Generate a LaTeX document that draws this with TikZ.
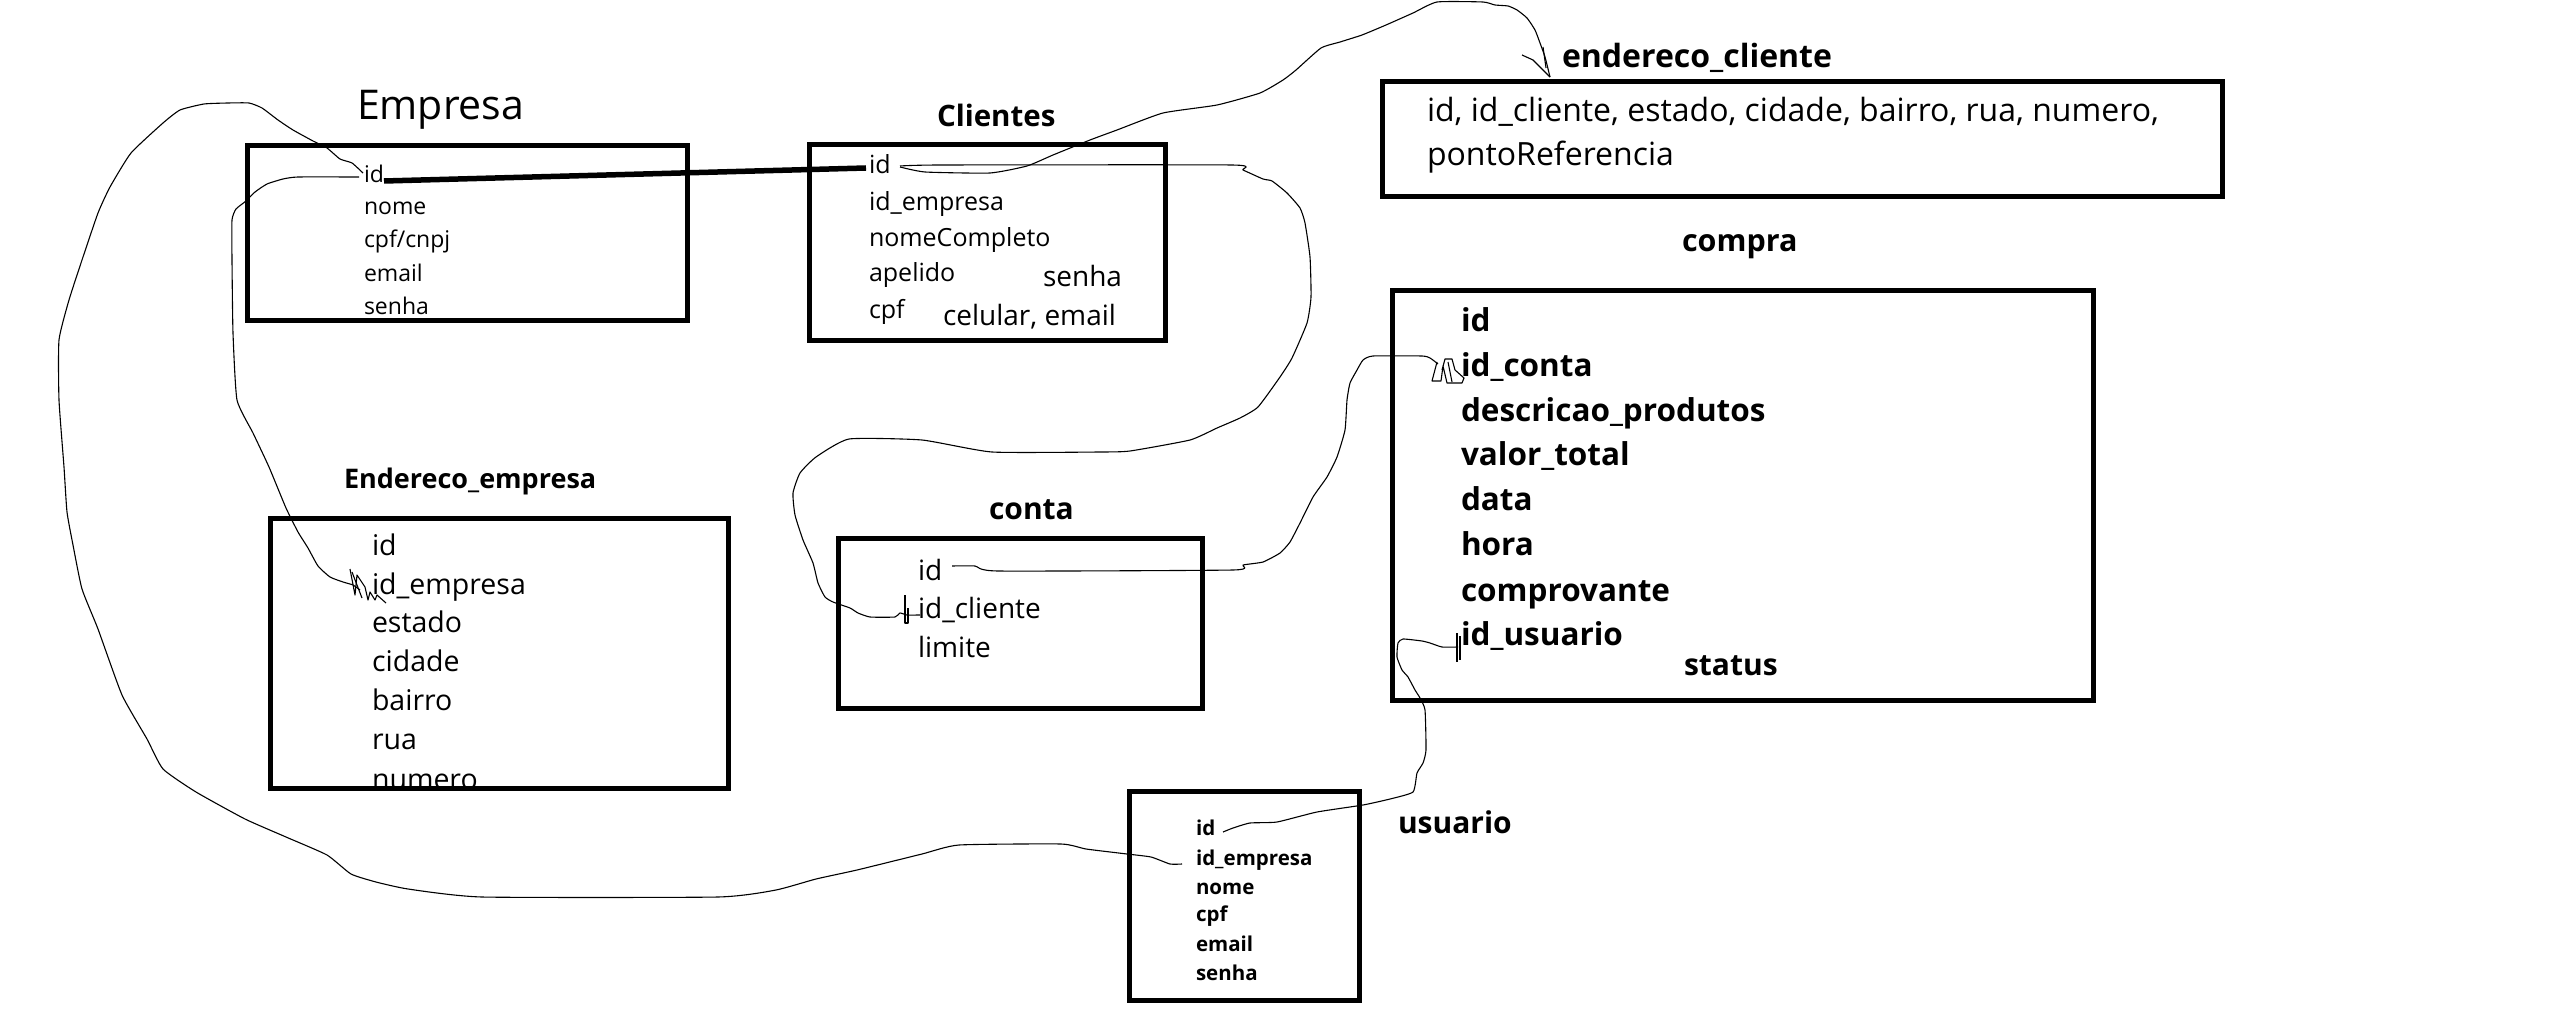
\documentclass[tikz,border=0pt]{standalone}
\usepackage{fontspec}
\setmainfont{Open Sans}
\newcommand{\fsz}[1]{\fontsize{#1}{#1}\selectfont}
\tikzset{
  tbl/.style={draw=black, line width=5pt, fill=none},
  fk/.style={draw=black, line width=1.1pt, line join=round},
  fld/.style={anchor=base west, inner sep=0pt, outer sep=0pt, text=black},
  ttl/.style={anchor=base west, inner sep=0pt, outer sep=0pt, text=black, font=\bfseries\fsz{29}},
  wob/.style={smooth, tension=0.3},
}
\begin{document}
\begin{tikzpicture}[x=1pt,y=-1pt]
\useasboundingbox (0,0) rectangle (2566,1024);
\fill[white] (0,0) rectangle (2566,1024);

% ---------------- Empresa
\node[fld, font=\fsz{41}] (t-emp) at (357,120) {Empresa};
\node[fld, font=\fsz{23}] (emp-id) at (364,183) {id};
\node[fld, font=\fsz{23}] (emp-nome) at (364,215) {nome};
\node[fld, font=\fsz{23}] (emp-cpf) at (364,248) {cpf/cnpj};
\node[fld, font=\fsz{23}] (emp-email) at (364,282) {email};
\node[fld, font=\fsz{23}] (emp-senha) at (364,314) {senha};
\draw[tbl] (247.5,145.5) rectangle (687.5,320.5);

% ---------------- Clientes
\node[ttl, font=\bfseries\fsz{29.5}] (t-cli) at (937,127) {Clientes};
\node[fld, font=\fsz{25}] (cli-id) at (869,174) {id};
\node[fld, font=\fsz{25}] (cli-idemp) at (869,211) {id\_empresa};
\node[fld, font=\fsz{25}] (cli-nome) at (869,247) {nomeCompleto};
\node[fld, font=\fsz{25}] (cli-ape) at (869,282) {apelido};
\node[fld, font=\fsz{25}] (cli-cpf) at (869,318) {cpf};
\node[fld, font=\fsz{28}] (cli-senha) at (1043,287) {senha};
\node[fld, font=\fsz{28}] (cli-cel) at (943,325) {celular, email};
\draw[tbl] (809.5,144.5) rectangle (1165.5,340.5);

% ---------------- endereco_cliente
\node[ttl, font=\bfseries\fsz{32}] (t-ecli) at (1562,68) {endereco\_cliente};
\node[fld, font=\fsz{32}] (ecli-1) at (1427,122) {id, id\_cliente, estado, cidade, bairro, rua, numero,};
\node[fld, font=\fsz{32}] (ecli-2) at (1427,166) {pontoReferencia};
\draw[tbl] (1382.5,81.5) rectangle (2222,196.5);

% ---------------- compra
\node[ttl, font=\bfseries\fsz{30.5}] (t-com) at (1682,252) {compra};
\node[fld, font=\bfseries\fsz{31.5}] (com-id) at (1461,331) {id};
\node[fld, font=\bfseries\fsz{31.5}] (com-conta) at (1461,376) {id\_conta};
\node[fld, font=\bfseries\fsz{31.5}] (com-desc) at (1461,421) {descricao\_produtos};
\node[fld, font=\bfseries\fsz{31.5}] (com-val) at (1461,465) {valor\_total};
\node[fld, font=\bfseries\fsz{31.5}] (com-data) at (1461,510) {data};
\node[fld, font=\bfseries\fsz{31.5}] (com-hora) at (1461,555) {hora};
\node[fld, font=\bfseries\fsz{31.5}] (com-comp) at (1461,601) {comprovante};
\node[fld, font=\bfseries\fsz{31.5}] (com-usu) at (1461,645) {id\_usuario};
\node[fld, font=\bfseries\fsz{30}] (com-status) at (1684,675) {status};
\draw[tbl] (1392.5,290.5) rectangle (2093.5,700.5);

% ---------------- Endereco_empresa
\node[ttl, font=\bfseries\fsz{27}] (t-eemp) at (344,488) {Endereco\_empresa};
\node[fld, font=\fsz{28.5}] (eemp-id) at (372,555) {id};
\node[fld, font=\fsz{28.5}] (eemp-idemp) at (372,594) {id\_empresa};
\node[fld, font=\fsz{28.5}] (eemp-est) at (372,632) {estado};
\node[fld, font=\fsz{28.5}] (eemp-cid) at (372,671) {cidade};
\node[fld, font=\fsz{28.5}] (eemp-bai) at (372,710) {bairro};
\node[fld, font=\fsz{28.5}] (eemp-rua) at (372,749) {rua};
\node[fld, font=\fsz{28.5}] (eemp-num) at (372,789) {numero};
\draw[tbl] (270.5,518.5) rectangle (728.5,788.5);

% ---------------- conta
\node[ttl, font=\bfseries\fsz{30}] (t-con) at (989,519) {conta};
\node[fld, font=\fsz{28}] (con-id) at (918,580) {id};
\node[fld, font=\fsz{28}] (con-cli) at (918,618) {id\_cliente};
\node[fld, font=\fsz{28}] (con-lim) at (918,657) {limite};
\draw[tbl] (838.5,538.5) rectangle (1202.5,708.5);

% ---------------- usuario
\node[ttl, font=\bfseries\fsz{30}] (t-usu) at (1398,833) {usuario};
\node[fld, font=\bfseries\fsz{20.5}] (usu-id) at (1196,835) {id};
\node[fld, font=\bfseries\fsz{20.5}] (usu-idemp) at (1196,865) {id\_empresa};
\node[fld, font=\bfseries\fsz{20.5}] (usu-nome) at (1196,894) {nome};
\node[fld, font=\bfseries\fsz{20.5}] (usu-cpf) at (1196,921) {cpf};
\node[fld, font=\bfseries\fsz{20.5}] (usu-email) at (1196,951) {email};
\node[fld, font=\bfseries\fsz{20.5}] (usu-senha) at (1196,980) {senha};
\draw[tbl] (1129.5,791.5) rectangle (1359.5,1000.5);

% ---------------- connector end points
\coordinate (e1a) at (384,181);  \coordinate (e1b) at (866,168);
\coordinate (c1s) at (359,177);  \coordinate (c1e) at (360,590);
\coordinate (c2s) at (363,173);  \coordinate (c2e) at (1182,864);
\coordinate (c3s) at (900,167);  \coordinate (c3e) at (1550,77);
\coordinate (c4s) at (900,166);  \coordinate (c4e) at (920,615);
\coordinate (c5s) at (952,566);  \coordinate (c5e) at (1438,364);
\coordinate (c6s) at (1458,647); \coordinate (c6e) at (1223,832);

% thick link Empresa.id -- Clientes.id
\draw[line width=5.5pt] (e1a) -- (e1b);

% Empresa.id -> Endereco_empresa.id_empresa
\draw[fk] plot[wob] coordinates {(c1s) (298,177) (283,179) (267,184) (255,192) (246,201) (236,209) (232,220) (232,260) (233,333) (237,400) (253,433) (269,467) (286,508) (298,532) (308,548) (318,566) (330,577) (343,582) (353,585) (c1e)};
\draw[fk] (350,569) -- (355,595) -- (357,575) -- (365,587) -- (368,600) -- (370,592) -- (375,600) -- (377,595) -- (386,603);
\draw[fk] (352,572) -- (362,598);

% Empresa.id -> usuario.id_empresa (big loop)
\draw[fk] plot[wob] coordinates {(c2s) (352,163) (340,159) (327,148) (313,141) (293,130) (278,120) (262,108) (249,103) (228,103) (204,104) (180,110) (163,123) (131,153) (110,187) (98,213) (82,260) (69,300) (59,340) (59,400) (64,467) (67,512) (73,545) (82,589) (98,629) (122,695) (147,739) (163,769) (196,792) (245,819) (286,837) (327,855) (351,874) (376,882) (408,889) (482,897) (718,897) (776,890) (816,879) (857,870) (922,854) (959,845) (1061,844) (1086,849) (1127,854) (1151,857) (1170,864) (c2e)};

% Clientes.id -> endereco_cliente (arrow)
\draw[fk] plot[wob] coordinates {(c3s) (925,172) (990,173) (1027,166) (1053,155) (1090,140) (1117,130) (1163,113) (1217,105) (1260,93) (1283,80) (1296,70) (1321,48) (1340,42) (1362,35) (1386,25) (1413,13) (1437,2) (1483,2) (1495,5) (1508,6) (1517,10) (1527,18) (1535,30) (1540,43) (1545,57) (c3e)};
\draw[fk] (1522,55) -- (1533,60) -- (c3e);
\draw[fk] (1543,47) -- (1546,68);

% Clientes.id -> conta.id_cliente
\draw[fk] plot[wob] coordinates {(c4s) (940,165) (1232,165) (1243,170) (1263,179) (1272,181) (1287,193) (1300,208) (1305,223) (1310,257) (1311,297) (1307,323) (1292,358) (1280,377) (1258,407) (1240,418) (1217,428) (1190,440) (1130,451) (1100,452) (992,452) (922,440) (849,439) (816,457) (800,473) (793,493) (795,515) (803,540) (813,563) (818,583) (825,597) (833,602) (850,608) (858,613) (870,617) (895,617) (900,613) (907,615) (c4e)};
\draw[fk] (905,595) -- (905,623) -- (908,623) -- (908,608);

% conta.id -> compra.id_conta
\draw[fk] plot[wob] coordinates {(c5s) (975,566) (998,571) (1233,570) (1243,565) (1263,562) (1280,553) (1290,542) (1300,523) (1313,497) (1327,477) (1337,457) (1345,430) (1347,400) (1350,383) (1357,370) (1363,360) (1373,356) (1422,356) (1430,358) (c5e)};
\draw[fk] (1437,362) -- (1432,381) -- (1441,381) -- (1443,366) -- (1447,383) -- (1462,383) -- (1464,378) -- (1455,370) -- (1452,359) -- (1445,359) -- (1442,370);
\draw[fk] (1448,362) -- (1452,382);

% compra.id_usuario -> usuario.id
\draw[fk] plot[wob] coordinates {(c6s) (1442,647) (1430,643) (1422,641) (1403,639) (1398,643) (1397,657) (1402,670) (1408,677) (1415,690) (1420,698) (1425,710) (1426,750) (1423,763) (1417,773) (1413,792) (1390,799) (1363,805) (1317,812) (1277,822) (1250,823) (1233,828) (c6e)};
\draw[fk] (1457,633) -- (1457,662);
\draw[fk] (1460,636) -- (1460,660);
\end{tikzpicture}
\end{document}
